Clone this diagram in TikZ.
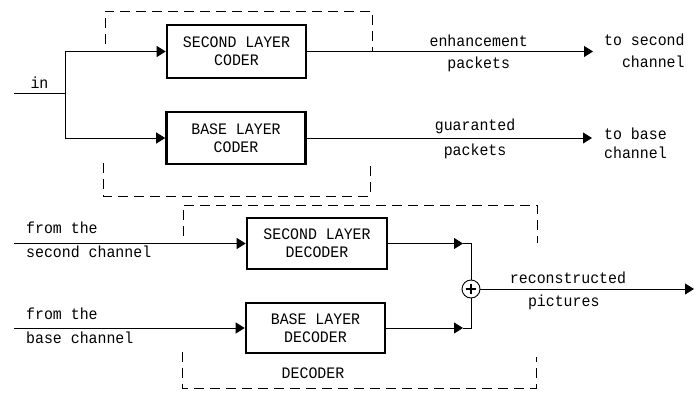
\documentclass[tikz,border=0pt]{standalone}
\usepackage{fontspec}
\newfontfamily\monof[FakeStretch=0.93]{Liberation Mono}
\usetikzlibrary{arrows.meta}
\begin{document}
\begin{tikzpicture}[x=1pt,y=-1pt,
  txt/.style={font=\monof\fontsize{16}{18}\selectfont, inner sep=1pt},
  blk/.style={txt, draw, line width=2.6pt, align=center, minimum width=139pt, minimum height=53pt},
  conn/.style={line width=0.9pt},
  arr/.style={conn, -{Triangle[length=9pt,width=11pt]}},
  dashbox/.style={line width=0.9pt, dash pattern=on 10pt off 6pt}]
\useasboundingbox (0,0) rectangle (694,394);
% coder
\node[blk] (sc) at (236.5,51.5) {SECOND LAYER\\CODER};
\node[blk, minimum height=52pt] (bc) at (236,138) {BASE LAYER\\CODER};
\coordinate (in) at (14,93);
\coordinate (br) at (65,93);
\draw[conn] (in) -- node[txt,above=3pt]{in} (br);
\draw[arr] (br) |- (sc.west);
\draw[arr] (br) |- (bc.west);
\coordinate (t1) at (593,51.5);
\draw[arr] (sc.east) -- node[txt,above=3pt,pos=0.6]{enhancement} node[txt,below=4pt,pos=0.6]{packets} (t1);
\node[txt,anchor=west,align=right] (ts) at (603,51) {to second\\[4pt]channel};
\coordinate (t2) at (592,138);
\draw[arr] (bc.east) -- node[txt,above=3pt,pos=0.59]{guaranted} node[txt,below=4pt,pos=0.59]{packets} (t2);
\node[txt,anchor=west,align=left] (tb) at (603,143) {to base\\[1pt]channel};
\draw[dashbox] (105,44) -- (105,11) -- (372,11) -- (372,51.5);
\draw[dashbox] (103,163) -- (103,196) -- (370,196) -- (370,165);
% decoder
\node[blk, minimum width=140pt, minimum height=51pt] (sd) at (317,243.5) {SECOND LAYER\\DECODER};
\node[blk, minimum height=50pt] (bd) at (315.5,328) {BASE LAYER\\DECODER};
\coordinate (f1) at (14,243.5);
\draw[arr] (f1) -- (sd.west);
\node[txt,anchor=west] (ft1) at (25,228) {from the};
\node[txt,anchor=west] (sch) at (25,252) {second channel};
\coordinate (f2) at (14,328);
\draw[arr] (f2) -- (bd.west);
\node[txt,anchor=west] (ft2) at (25,314) {from the};
\node[txt,anchor=west] (bch) at (25,338) {base channel};
\node[circle, draw, line width=0.9pt, minimum size=18pt, inner sep=0pt] (sum) at (471,289) {};
\draw[line width=1.3pt] (sum.north) ++(0,4) -- ++(0,10);
\draw[line width=1.3pt] (sum.west) ++(4,0) -- ++(10,0);
\coordinate (a1) at (463,243.5);
\coordinate (a2) at (463,328);
\draw[arr] (sd.east) -- (a1);
\draw[conn] (a1) -| (sum.north);
\draw[arr] (bd.east) -- (a2);
\draw[conn] (a2) -| (sum.south);
\coordinate (o) at (694,289);
\draw[arr] (sum.east) -- node[txt,above=4pt,pos=0.41]{reconstructed} node[txt,below=4pt,pos=0.39]{pictures} (o);
\node[txt] (dl) at (313,373) {DECODER};
\draw[dashbox] (183,236) -- (183,205) -- (537,205) -- (537,243);
\draw[dashbox] (182,352) -- (182,388) -- (536,388) -- (536,357);
\end{tikzpicture}
\end{document}
